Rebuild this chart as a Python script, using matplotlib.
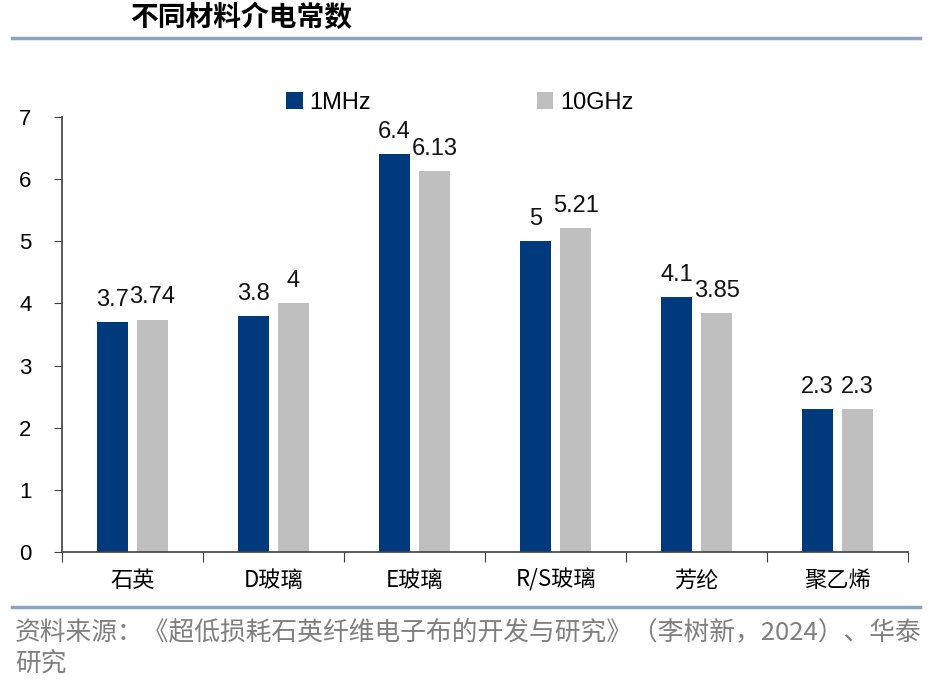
import matplotlib.pyplot as plt
import numpy as np

plt.rcParams['font.family'] = ['Noto Sans CJK SC', 'DejaVu Sans']

# 数据
categories = ['石英', 'D玻璃', 'E玻璃', 'R/S玻璃', '芳纶', '聚乙烯']
mhz_1 = [3.7, 3.8, 6.4, 5, 4.1, 2.3]
ghz_10 = [3.74, 4, 6.13, 5.21, 3.85, 2.3]
series_names = ['1MHz', '10GHz']
title = '不同材料介电常数'
source_1 = '资料来源：《超低损耗石英纤维电子布的开发与研究》（李树新，2024）、华泰'
source_2 = '研究'

navy = '#003A7D'
gray = '#BFBFBF'
axis_color = '#404040'
latin = ['Liberation Sans', 'DejaVu Sans']

fig = plt.figure(figsize=(9.45, 6.87), dpi=100)
ax = fig.add_axes([0.0656, 0.1965, 0.8954, 0.6332])

x = np.arange(len(categories))
w = 0.22
off = 0.142
b1 = ax.bar(x - off, mhz_1, w, color=navy, label=series_names[0])
b2 = ax.bar(x + off, ghz_10, w, color=gray, label=series_names[1])

# 数据标签
for bars, vals in [(b1, mhz_1), (b2, ghz_10)]:
    for rect, v in zip(bars, vals):
        ax.annotate(f'{v:g}', (rect.get_x() + rect.get_width() / 2, v),
                    xytext=(0, 8), textcoords='offset points',
                    ha='center', va='bottom', fontsize=17, color='#111111',
                    family=latin)

ax.set_xlim(-0.5, len(categories) - 0.5)
ax.set_ylim(0, 7)
ax.set_yticks(range(0, 8))
ax.set_xticks(np.arange(-0.5, len(categories), 1.0))
ax.set_xticklabels([])
ax.set_xticks(x, minor=True)
ax.set_xticklabels(categories, minor=True, fontsize=16)
ax.tick_params(axis='x', which='minor', length=0, pad=12)
ax.tick_params(axis='x', which='major', length=7, direction='out', color=axis_color)
ax.tick_params(axis='y', length=6, direction='out', color=axis_color, labelsize=16, pad=16)
for lbl in ax.get_yticklabels():
    lbl.set_family(latin)

for s in ['top', 'right']:
    ax.spines[s].set_visible(False)
ax.spines['left'].set_color(axis_color)
ax.spines['bottom'].set_color(axis_color)
ax.spines['left'].set_linewidth(1.2)
ax.spines['bottom'].set_linewidth(1.2)

# 图例
leg = ax.legend(loc='lower center', bbox_to_anchor=(0.470, 0.958), ncol=2, frameon=False,
                handlelength=0.7, handleheight=0.7, handletextpad=0.3,
                columnspacing=7.0, prop={'family': latin, 'size': 17})

# 标题与分隔线
fig.text(130 / 945, 1 - 18 / 687, title, fontsize=20, fontweight='bold', va='center', ha='left')
fig.add_artist(plt.Line2D([12 / 945, 920 / 945], [1 - 38 / 687, 1 - 38 / 687], color='#8EA4BE', lw=2.5))
fig.add_artist(plt.Line2D([12 / 945, 920 / 945], [1 - 607 / 687, 1 - 607 / 687], color='#8EA4BE', lw=2.5))

# 资料来源
fig.text(15 / 945, 1 - 632 / 687, source_1, fontsize=18.5, color='#7F7F7F', va='center', ha='left')
fig.text(15 / 945, 1 - 665 / 687, source_2, fontsize=18.5, color='#7F7F7F', va='center', ha='left')

fig.savefig('out.png', dpi=100)
